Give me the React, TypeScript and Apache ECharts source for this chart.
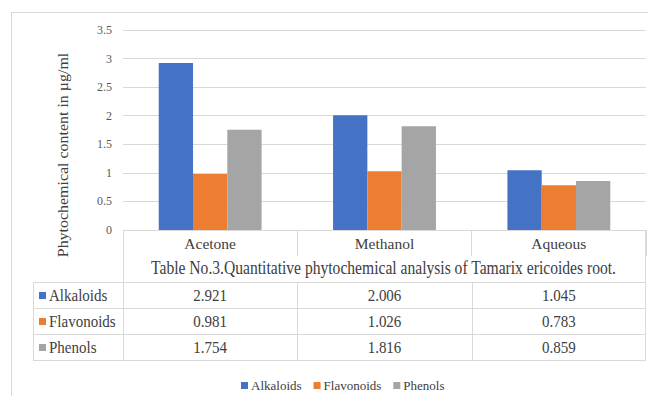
import React, { useEffect, useRef } from "react";
import * as echarts from "echarts";

const categories = ["Acetone", "Methanol", "Aqueous"];
const seriesNames = ["Alkaloids", "Flavonoids", "Phenols"];
const alkaloids = [2.921, 2.006, 1.045];
const flavonoids = [0.981, 1.026, 0.783];
const phenols = [1.754, 1.816, 0.859];
const yTicks = { min: 0, max: 3.5, interval: 0.5 };
const colors = ["#4472C4", "#ED7D31", "#A5A5A5"];
const tableTitle = "Table No.3.Quantitative phytochemical analysis of Tamarix ericoides root.";
const yTitle = "Phytochemical content in µg/ml";

const FONT = "'Liberation Serif', 'Times New Roman', 'DejaVu Serif', serif";
const LINE = "#D9D9D9";
const TEXT = "#404040";
const STRETCH = 1.16;

export default function App() {
  const ref = useRef<HTMLDivElement>(null);
  useEffect(() => {
    if (!ref.current) return;
    const chart = echarts.init(ref.current, null, { renderer: "svg" });
    const values = [alkaloids, flavonoids, phenols];
    const gridLeft = 123;
    const gridRight = 646;
    const gridTop = 30;
    const axisY = 230;
    chart.setOption({
      animation: false,
      textStyle: { fontFamily: FONT },
      grid: { left: gridLeft, right: 648 - gridRight, top: gridTop, bottom: 396 - axisY, containLabel: false },
      xAxis: {
        type: "category",
        data: categories,
        axisLine: { show: true, lineStyle: { color: LINE, width: 1 } },
        axisTick: { show: true, length: 26, lineStyle: { color: LINE } },
        axisLabel: { fontFamily: FONT, fontSize: 15.5, color: TEXT, margin: 5 },
      },
      yAxis: {
        type: "value",
        min: yTicks.min,
        max: yTicks.max,
        interval: yTicks.interval,
        axisLine: { show: false },
        axisTick: { show: false },
        axisLabel: { fontFamily: FONT, fontSize: 12, color: "#595959", margin: 11 },
        splitLine: { lineStyle: { color: LINE, width: 1 } },
      },
      legend: {
        data: seriesNames,
        left: 236,
        top: 374,
        icon: "rect",
        itemWidth: 7,
        itemHeight: 7,
        itemGap: 12,
        textStyle: { fontFamily: FONT, fontSize: 13, color: TEXT, padding: [0, 0, 0, -2] },
      },
      series: seriesNames.map((n, i) => ({
        name: n,
        type: "bar",
        data: values[i],
        barGap: "0%",
        barCategoryGap: "41%",
        itemStyle: { color: colors[i] },
      })),
    });

    const centers = categories.map((c) => chart.convertToPixel({ xAxisIndex: 0 }, c) as number);
    const colW = (gridRight - gridLeft) / categories.length;
    const rowTops = [282, 308, 334, 360];
    const labelLeft = 33;
    const g: any[] = [];
    const line = (x1: number, y1: number, x2: number, y2: number) =>
      g.push({ type: "line", shape: { x1, y1, x2, y2 }, style: { stroke: LINE, lineWidth: 1 }, silent: true });
    const text = (x: number, y: number, t: string, align: string, size: number) =>
      g.push({
        type: "text",
        x,
        y,
        scaleY: STRETCH,
        style: { text: t, fontFamily: FONT, fontSize: size, fill: TEXT, align, verticalAlign: "middle" },
      });
    // outer frame
    line(11.5, 12, 11.5, 396);
    line(11, 12.5, 648, 12.5);
    // table lines
    rowTops.forEach((y) => line(labelLeft, y + 0.5, gridRight, y + 0.5));
    line(labelLeft + 0.5, rowTops[0], labelLeft + 0.5, rowTops[3]);
    line(gridLeft + 0.5, axisY, gridLeft + 0.5, rowTops[3]);
    line(gridRight - 0.5, axisY, gridRight - 0.5, rowTops[3]);
    centers.forEach((cx, i) => {
      if (i > 0) {
        const bx = Math.round(cx - colW / 2) + 0.5;
        line(bx, rowTops[0], bx, rowTops[3]);
      }
    });
    // title row
    text((gridLeft + gridRight) / 2 - 1, 268, tableTitle, "center", 15.6);
    // rows
    seriesNames.forEach((n, r) => {
      const cy = (rowTops[r] + rowTops[r + 1]) / 2 + 0.5;
      g.push({ type: "rect", shape: { x: 39, y: cy - 3.5, width: 7, height: 7 }, style: { fill: colors[r] } });
      text(49, cy, n, "left", 15);
      centers.forEach((cx, c) => text(cx, cy, values[r][c].toFixed(3), "center", 15));
    });
    // y title
    g.push({
      type: "text",
      x: 63,
      y: 155,
      rotation: Math.PI / 2,
      scaleX: 1.1,
      style: { text: yTitle, fontFamily: FONT, fontSize: 14.5, fill: TEXT, align: "center", verticalAlign: "middle" },
    });
    chart.setOption({ graphic: g });
    return () => chart.dispose();
  }, []);
  return <div ref={ref} style={{ position: "fixed", left: 0, top: 0, width: 648, height: 396, background: "#fff" }} />;
}
